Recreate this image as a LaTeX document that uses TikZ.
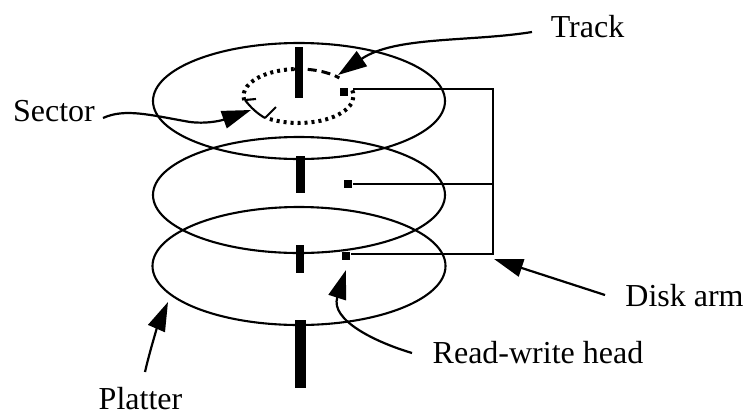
\documentclass[tikz,border=0pt]{standalone}
\usepackage{fontspec}
\setmainfont{Liberation Serif}
\usetikzlibrary{arrows.meta}

\begin{document}
\begin{tikzpicture}[x=1pt, y=-1pt, line width=2.1pt,
	spindle/.style={fill=black, draw=none, inner sep=0pt, minimum height=#1},
	head node/.style={fill=black, inner sep=0pt, minimum size=8.5pt},
	label node/.style={inner sep=0pt, anchor=base, font=\fontsize{32}{32}\selectfont},
	pointer/.style={-{Triangle[length=29pt, width=18pt]}, line width=2.2pt},
	dots/.style={line width=4pt, dash pattern=on 3pt off 4pt}]
	
	\useasboundingbox (0,0) rectangle (746,413);
	
	\draw (299,101) ellipse [x radius=146, y radius=58];
	\draw (299,195) ellipse [x radius=146, y radius=58];
	\draw (299,266) ellipse [x radius=146.5, y radius=59];
	
	\node[spindle=51pt, minimum width=8pt] (s1) at (299,72.5) {};
	\node[spindle=37pt, minimum width=9pt] (s2) at (300,174.5) {};
	\node[spindle=28pt, minimum width=8pt] (s3) at (300,259) {};
	\node[spindle=68pt, minimum width=11pt] (s4) at (300,354) {};
	
	\node[head node] (h1) at (344,92) {};
	\node[head node] (h2) at (348,184) {};
	\node[head node] (h3) at (346,256) {};
	\coordinate (a0) at (353,89);
	\coordinate (a1) at (493,89);
	\coordinate (a2) at (493,184);
	\coordinate (a3) at (493,254);
	
	\draw (a0) -- (a1) -- (a3) -- (a3 -| h3.east);
	\draw (h2.east) -- (a2);
	
	\draw[dots] (298.5,96) ++(171:55 and 27) arc [start angle=171, end angle=265, x radius=55, y radius=27];
	\draw[line width=3pt, dash pattern=on 9pt off 5pt] (298.5,96) ++(265:55 and 27) arc [start angle=265, end angle=318, x radius=55, y radius=27];
	\draw[dots] (298.5,96) ++(-12:55 and 27) arc [start angle=-12, end angle=125, x radius=55, y radius=27];
	\coordinate (t1) at (245,100);
	\coordinate (t2) at (265,118);
	\draw (t1) .. controls (251,108) and (258,114) .. (t2);
	\draw (t1) -- (256,99);
	\draw (t2) -- (276,107);
	
	\node[label node] (track) at (587.5,37) {Track};
	\node[label node] (sector) at (54,121) {Sector};
	\node[label node] (arm) at (684.5,306) {Disk arm};
	\node[label node] (rw) at (538,363) {Read-write head};
	\node[label node] (platter) at (140.5,409) {Platter};
	
	\coordinate (tracktail) at (532,32);
	\coordinate (tracktip) at (338,75);
	\coordinate (sectortail) at (103,118);
	\coordinate (sectormid) at (190,122);
	\coordinate (sectortip) at (251,110);
	\coordinate (armtail) at (605,295);
	\coordinate (armtip) at (494,259);
	\coordinate (rwtail) at (412,353);
	\coordinate (rwtip) at (346,270);
	\coordinate (plattertail) at (145,372);
	\coordinate (plattertip) at (168,302);
	
	\draw[pointer] (tracktail) .. controls (470,42) and (395,36) .. (tracktip);
	\draw[pointer] (sectortail) .. controls (125,108) and (150,115) .. (sectormid) .. controls (205,124) and (220,121) .. (sectortip);
	\draw[pointer] (armtail) -- (armtip);
	\draw[pointer] (rwtail) .. controls (375,342) and (330,320) .. (rwtip);
	\draw[pointer] (plattertail) .. controls (150,350) and (158,325) .. (plattertip);
\end{tikzpicture}
\end{document}
